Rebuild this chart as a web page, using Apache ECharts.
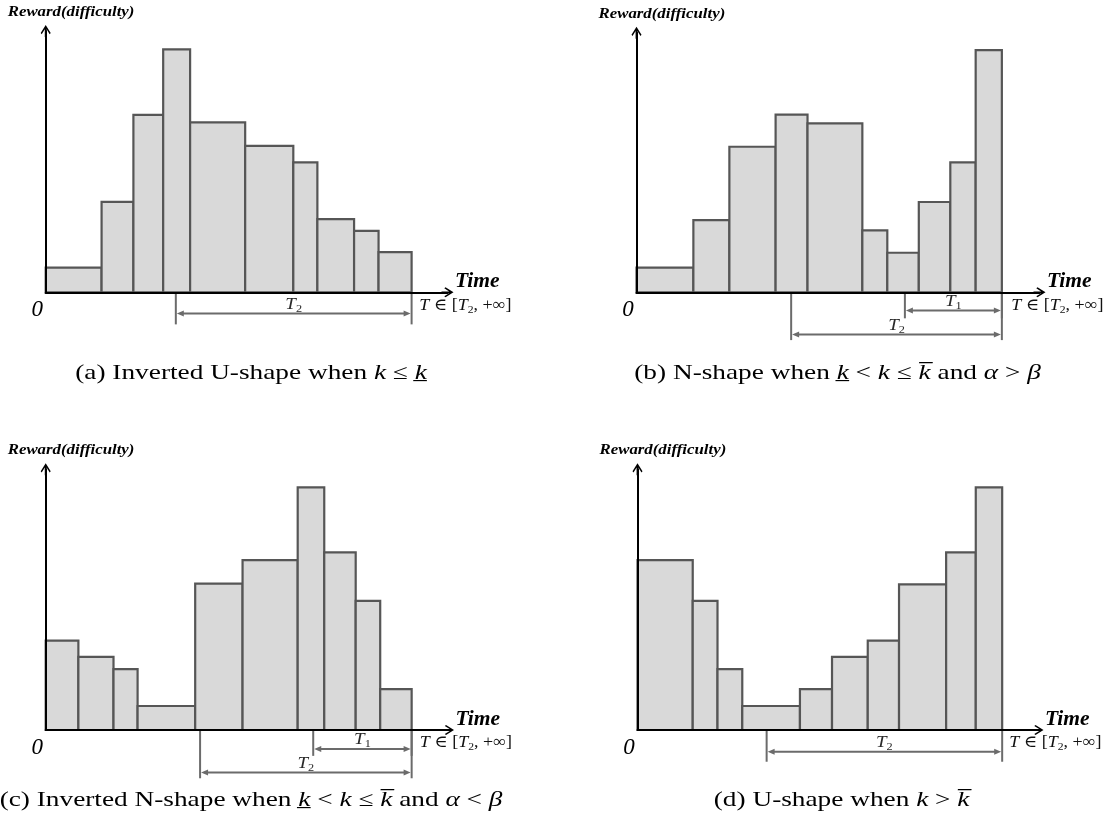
<!DOCTYPE html>
<html>
<head>
<meta charset="utf-8">
<script src="https://cdn.jsdelivr.net/npm/echarts@6/dist/echarts.min.js"></script>
<style>
  html, body { margin: 0; padding: 0; background: #ffffff; }
  #chart { width: 1110px; height: 836px; }
</style>
</head>
<body>
<div id="chart"></div>
<script>
// Time intervals of the reward levels (bar edges) and reward heights, per shape.
const edgesA   = [0, 13.7, 21.5, 28.8, 35.4, 48.9, 60.7, 66.6, 75.6, 81.6, 89.7];
const heightsA = [9.2, 33.8, 66.4, 90.9, 63.6, 54.8, 48.6, 27.4, 23.0, 15.0];

const edgesB   = [0, 13.9, 22.7, 34.0, 41.8, 55.2, 61.3, 69.0, 76.7, 82.9, 89.3];
const heightsB = [9.3, 27.2, 54.8, 66.9, 63.6, 23.3, 14.9, 34.0, 48.9, 91.2];

const edgesC   = [0, 8.0, 16.6, 22.5, 36.6, 48.2, 61.7, 68.2, 75.9, 81.9, 89.6];
const heightsC = [33.5, 27.4, 22.8, 9.0, 54.9, 63.7, 91.0, 66.6, 48.4, 15.3];

const edgesD   = [0, 13.6, 19.7, 25.8, 40.0, 47.9, 56.7, 64.4, 76.0, 83.3, 89.8];
const heightsD = [63.7, 48.4, 22.8, 9.0, 15.3, 27.4, 33.5, 54.6, 66.6, 91.0];

// Marked time spans: [subscript of T, start, end]
const spansA = [['2', 31.9, 89.7]];
const spansB = [['1', 65.6, 89.3], ['2', 37.8, 89.3]];
const spansC = [['1', 65.5, 89.6], ['2', 37.8, 89.6]];
const spansD = [['2', 31.8, 89.8]];

// Sub-figure captions ({m|...} = math italic)
const captionA = '(a) Inverted U-shape when {m|k} ≤ {m|k\u0332}';
const captionB = '(b) N-shape when {m|k\u0332} < {m|k} ≤ {m|k\u0305} and {m|α} > {m|β}';
const captionC = '(c) Inverted N-shape when {m|k\u0332} < {m|k} ≤ {m|k\u0305} and {m|α} < {m|β}';
const captionD = '(d) U-shape when {m|k} > {m|k\u0305}';

const yAxisName = 'Reward(difficulty)';
const xAxisName = 'Time';
const rangeText = '{t|T} ∈ [{t|T}{s|2}, +∞]';
const originText = '0';

// ---- layout ----
const layout = [
  { grid: { left: 45.7,  top: 31,    width: 401.8, height: 261.3 }, levels: [[-7.9, -12]],                 caption: [251, 373] },
  { grid: { left: 636.5, top: 32.7,  width: 403,   height: 259.6 }, levels: [[-6.9, -9.8], [-15.9, -18]],  caption: [837.5, 373] },
  { grid: { left: 45.7,  top: 469.3, width: 402.3, height: 260.7 }, levels: [[-7.1, -9.7], [-15.9, -18.1]], caption: [251, 800.5] },
  { grid: { left: 637.5, top: 469.3, width: 400,   height: 260.7 }, levels: [[-8.2, -11.9]],               caption: [841.6, 800.5] }
];
const X_END = 98.5, Y_END = 97.75;

const panels = [
  { edges: edgesA, heights: heightsA, spans: spansA, caption: captionA },
  { edges: edgesB, heights: heightsB, spans: spansB, caption: captionB },
  { edges: edgesC, heights: heightsC, spans: spansC, caption: captionC },
  { edges: edgesD, heights: heightsD, spans: spansD, caption: captionD }
];

const SERIF = '"Liberation Serif", "Times New Roman", "DejaVu Serif", serif';
const BAR_FILL = '#d9d9d9';
const BAR_EDGE = '#565656';
const DIM = '#6b6b6b';
// open arrow head with a short stem so the axis line runs into the tip
const ARROW = 'path://M5,0 L10,8 L9,9.2 L5.9,4.3 L5.9,12 L4.1,12 L4.1,4.3 L1,9.2 L0,8 Z';

function renderBar(params, api) {
  const p0 = api.coord([api.value(0), api.value(2)]);
  const p1 = api.coord([api.value(1), 0]);
  return {
    type: 'rect',
    shape: { x: p0[0], y: p0[1], width: p1[0] - p0[0], height: p1[1] - p0[1] },
    style: { fill: BAR_FILL, stroke: BAR_EDGE, lineWidth: 2.2 }
  };
}

function makeSpanRender(spans) {
  return function (params, api) {
    const x0 = api.value(0), x1 = api.value(1), lv = api.value(2), dp = api.value(3);
    const b0 = api.coord([x0, 0]), b1 = api.coord([x1, 0]);
    const t0 = api.coord([x0, dp]), t1 = api.coord([x1, dp]);
    const y = api.coord([x0, lv])[1];
    const ah = 7, aw = 3;
    const ls = { stroke: DIM, lineWidth: 2 };
    return {
      type: 'group',
      children: [
        { type: 'line', shape: { x1: b0[0], y1: b0[1], x2: t0[0], y2: t0[1] }, style: ls },
        { type: 'line', shape: { x1: b1[0], y1: b1[1], x2: t1[0], y2: t1[1] }, style: ls },
        { type: 'line', shape: { x1: b0[0] + ah, y1: y, x2: b1[0] - ah, y2: y }, style: ls },
        { type: 'polygon', shape: { points: [[b0[0] + 1, y], [b0[0] + 1 + ah, y - aw], [b0[0] + 1 + ah, y + aw]] }, style: { fill: DIM } },
        { type: 'polygon', shape: { points: [[b1[0] - 1, y], [b1[0] - 1 - ah, y - aw], [b1[0] - 1 - ah, y + aw]] }, style: { fill: DIM } },
        {
          type: 'text', x: (b0[0] + b1[0]) / 2, y: y - 9, scaleX: 1.12,
          style: {
            text: '{t|T}{s|' + spans[params.dataIndex][0] + '}',
            align: 'center', verticalAlign: 'middle',
            rich: {
              t: { fontFamily: SERIF, fontStyle: 'italic', fontSize: 17, lineHeight: 20, fill: '#2a2a2a' },
              s: { fontFamily: SERIF, fontSize: 11, lineHeight: 10, verticalAlign: 'bottom', fill: '#2a2a2a' }
            }
          }
        }
      ]
    };
  };
}

const grids = [], xAxes = [], yAxes = [], series = [], graphics = [];

panels.forEach(function (pd, i) {
  const L = layout[i], g = L.grid;
  grids.push(Object.assign({ containLabel: false }, g));

  const axisBase = {
    gridIndex: i, type: 'value', min: 0, z: 10,
    axisTick: { show: false }, axisLabel: { show: false }, splitLine: { show: false },
    axisLine: { show: true, onZero: false, symbol: ['none', ARROW], symbolSize: [10, 12],
                lineStyle: { color: '#000', width: 2 } }
  };
  xAxes.push(Object.assign({}, axisBase, { max: X_END }));
  yAxes.push(Object.assign({}, axisBase, { max: Y_END }));

  series.push({
    type: 'custom', xAxisIndex: i, yAxisIndex: i, clip: false, z: 2,
    data: pd.heights.map(function (h, k) { return [pd.edges[k], pd.edges[k + 1], h]; }),
    encode: { x: [0, 1], y: 2 },
    renderItem: renderBar
  });
  series.push({
    type: 'custom', xAxisIndex: i, yAxisIndex: i, clip: false, z: 3,
    data: pd.spans.map(function (s, k) { return [s[1], s[2], L.levels[k][0], L.levels[k][1]]; }),
    encode: { x: [0, 1] },
    renderItem: makeSpanRender(pd.spans)
  });

  const x0 = g.left, yb = g.top + g.height;
  const tipX = g.left + g.width + 6, tipY = g.top - 6;

  graphics.push({
    type: 'text', x: x0 - 38, y: tipY - 13, scaleX: 1.085, z: 20,
    style: { text: yAxisName, fontFamily: SERIF, fontSize: 15.5, fontStyle: 'italic', fontWeight: 'bold',
             fill: '#000', align: 'left', verticalAlign: 'middle' }
  });
  graphics.push({
    type: 'text', x: tipX + 1.5, y: yb - 11, z: 20,
    style: { text: xAxisName, fontFamily: SERIF, fontSize: 21.5, fontStyle: 'italic', fontWeight: 'bold',
             fill: '#000', align: 'left', verticalAlign: 'middle' }
  });
  graphics.push({
    type: 'text', x: tipX + 58, y: yb + 13, scaleX: 1.06, z: 20,
    style: {
      text: rangeText, fontFamily: SERIF, fontSize: 17, lineHeight: 20, fill: '#111',
      align: 'right', verticalAlign: 'middle',
      rich: {
        t: { fontFamily: SERIF, fontStyle: 'italic', fontSize: 17, lineHeight: 20, fill: '#111' },
        s: { fontFamily: SERIF, fontSize: 11, lineHeight: 10, verticalAlign: 'bottom', fill: '#111' }
      }
    }
  });
  graphics.push({
    type: 'text', x: x0 - 8.5, y: yb + 18, z: 20,
    style: { text: originText, fontFamily: SERIF, fontSize: 23, fontStyle: 'italic',
             fill: '#000', align: 'center', verticalAlign: 'middle' }
  });
  graphics.push({
    type: 'text', x: L.caption[0], y: L.caption[1], scaleX: 1.3, z: 20,
    style: {
      text: pd.caption, fontFamily: SERIF, fontSize: 21, fill: '#000',
      align: 'center', verticalAlign: 'middle',
      rich: { m: { fontFamily: SERIF, fontStyle: 'italic', fontSize: 21, fill: '#000' } }
    }
  });
});

const chart = echarts.init(document.getElementById('chart'), null, { renderer: 'canvas' });
chart.setOption({
  animation: false,
  backgroundColor: '#ffffff',
  grid: grids,
  xAxis: xAxes,
  yAxis: yAxes,
  series: series,
  graphic: graphics
});
</script>
</body>
</html>
